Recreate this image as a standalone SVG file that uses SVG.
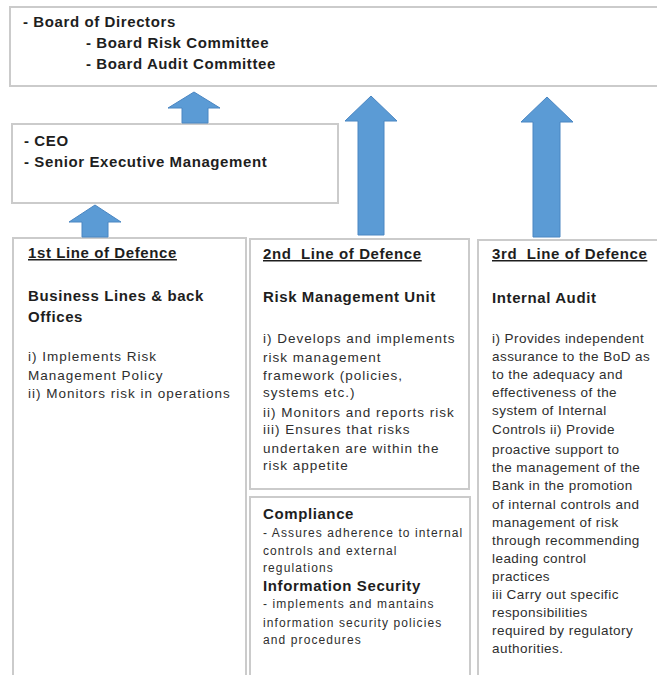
<svg xmlns="http://www.w3.org/2000/svg" width="657" height="675" viewBox="0 0 657 675">
  <defs>
    <style>
      .box { fill: #ffffff; stroke: #cbcbcb; stroke-width: 2; }
      .arrow { fill: #5b9bd5; stroke: #4a86c2; stroke-width: 1; }
      .h { font-family: "Liberation Sans", Arial, sans-serif; font-size: 15px; font-weight: bold; fill: #1e1e1e; letter-spacing: 0.6px; }
      .t { font-family: "Liberation Sans", Arial, sans-serif; font-size: 13.5px; fill: #2e2e2e; letter-spacing: 1px; }
      .n { font-family: "Liberation Sans", Arial, sans-serif; font-size: 13.5px; fill: #2e2e2e; letter-spacing: 0.45px; }
      .s { font-family: "Liberation Sans", Arial, sans-serif; font-size: 12px; fill: #2e2e2e; letter-spacing: 1.1px; }
      .u { text-decoration: underline; }
    </style>
  </defs>
  <rect width="657" height="675" fill="#ffffff"/>

  <!-- governance level -->
  <g id="board">
    <rect class="box" x="10" y="7" width="660" height="79"/>
    <text class="h" x="23" y="27">- Board of Directors</text>
    <text class="h" x="86" y="48">- Board Risk Committee</text>
    <text class="h" x="86" y="69">- Board Audit Committee</text>
  </g>

  <g id="ceo">
    <rect class="box" x="12" y="124" width="326" height="79"/>
    <text class="h" x="24" y="146">- CEO</text>
    <text class="h" x="24" y="167">- Senior Executive Management</text>
  </g>

  <!-- the three lines of defence -->
  <g id="line1">
    <rect class="box" x="13" y="238" width="233" height="460"/>
    <text class="h u" x="28" y="258">1st Line of Defence</text>
    <text class="h" x="28" y="301">Business Lines &amp; back</text>
    <text class="h" x="28" y="322">Offices</text>
    <text class="t" x="28" y="361">i) Implements Risk</text>
    <text class="t" x="28" y="380">Management Policy</text>
    <text class="t" x="28" y="398">ii) Monitors risk in operations</text>
  </g>

  <g id="line2">
    <rect class="box" x="250" y="239" width="219" height="250"/>
    <text class="h u" x="263" y="259" xml:space="preserve">2nd  Line of Defence</text>
    <text class="h" x="263" y="302">Risk Management Unit</text>
    <text class="t" x="263" y="343">i) Develops and implements</text>
    <text class="t" x="263" y="362">risk management</text>
    <text class="t" x="263" y="380">framework (policies,</text>
    <text class="t" x="263" y="397">systems etc.)</text>
    <text class="t" x="263" y="417">ii) Monitors and reports risk</text>
    <text class="t" x="263" y="434">iii) Ensures that risks</text>
    <text class="t" x="263" y="453">undertaken are within the</text>
    <text class="t" x="263" y="470">risk appetite</text>
  </g>

  <g id="compliance">
    <rect class="box" x="250" y="497" width="220" height="200"/>
    <text class="h" x="263" y="519">Compliance</text>
    <text class="s" x="263" y="537">- Assures adherence to internal</text>
    <text class="s" x="263" y="555">controls and external</text>
    <text class="s" x="263" y="572">regulations</text>
    <text class="h" x="263" y="591">Information Security</text>
    <text class="s" x="263" y="608">- implements and mantains</text>
    <text class="s" x="263" y="627">information security policies</text>
    <text class="s" x="263" y="644">and procedures</text>
  </g>

  <g id="line3">
    <rect class="box" x="478" y="240" width="200" height="460"/>
    <text class="h u" x="492" y="259" xml:space="preserve">3rd  Line of Defence</text>
    <text class="h" x="492" y="303">Internal Audit</text>
    <text class="n" x="492" y="343">i) Provides independent</text>
    <text class="n" x="492" y="361">assurance to the BoD as</text>
    <text class="n" x="492" y="379">to the adequacy and</text>
    <text class="n" x="492" y="397">effectiveness of the</text>
    <text class="n" x="492" y="415">system of Internal</text>
    <text class="n" x="492" y="434">Controls ii) Provide</text>
    <text class="n" x="492" y="454">proactive support to</text>
    <text class="n" x="492" y="472">the management of the</text>
    <text class="n" x="492" y="490">Bank in the promotion</text>
    <text class="n" x="492" y="509">of internal controls and</text>
    <text class="n" x="492" y="527">management of risk</text>
    <text class="n" x="492" y="545">through recommending</text>
    <text class="n" x="492" y="563">leading control</text>
    <text class="n" x="492" y="581">practices</text>
    <text class="n" x="492" y="599">iii Carry out specific</text>
    <text class="n" x="492" y="617">responsibilities</text>
    <text class="n" x="492" y="635">required by regulatory</text>
    <text class="n" x="492" y="653">authorities.</text>
  </g>

  <!-- reporting arrows -->
  <g id="connectors">
    <polygon class="arrow" points="194,92 220,108 208,108 208,123 182,123 182,108 168,108"/>
    <polygon class="arrow" points="95,205 121,222 108,222 108,237 82,237 82,222 69,222"/>
    <polygon class="arrow" points="371,96 397,121 384,121 384,235 358,235 358,121 345,121"/>
    <polygon class="arrow" points="547,97 573,122 560,122 560,237 533,237 533,122 521,122"/>
  </g>
</svg>
